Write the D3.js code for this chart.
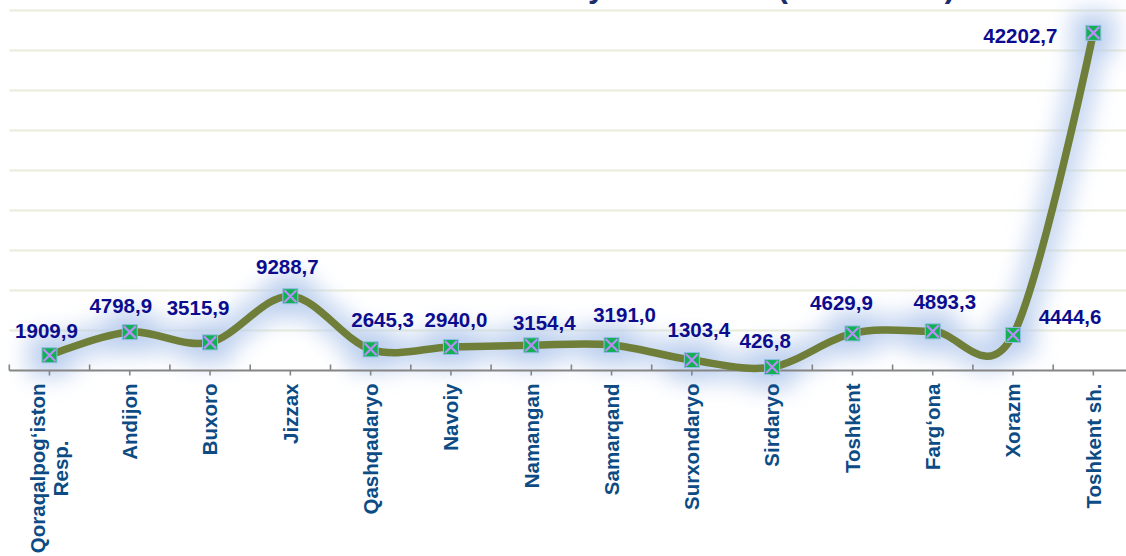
<!DOCTYPE html>
<html>
<head>
<meta charset="utf-8">
<script src="https://cdn.jsdelivr.net/npm/d3@7"></script>
<style>
  html, body { margin: 0; padding: 0; background: #ffffff; overflow: hidden; }
  svg { display: block; }
</style>
</head>
<body>
<svg id="chart" width="1126" height="556"></svg>
<script>
// Regions (multi-line names split on "\n")
const regions = [
  "Qoraqalpog‘iston\nResp.", "Andijon", "Buxoro", "Jizzax", "Qashqadaryo",
  "Navoiy", "Namangan", "Samarqand", "Surxondaryo", "Sirdaryo",
  "Toshkent", "Farg‘ona", "Xorazm", "Toshkent sh."
];
// Values per region
const values = [
  1909.9, 4798.9, 3515.9, 9288.7, 2645.3, 2940.0, 3154.4,
  3191.0, 1303.4, 426.8, 4629.9, 4893.3, 4444.6, 42202.7
];
// Value-axis gridline steps
const gridTicks = [5000, 10000, 15000, 20000, 25000, 30000, 35000, 40000, 45000];
const yMax = 45000;
const titleText = "Hududlar bo‘yicha tarkibi (mlrd. so‘m)";

// ---- layout ----
const W = 1126, H = 556;
const plotLeft = 9.3, step = 80.3, axisY = 370.5, plotTop = 10.5;
// label nudges relative to each point: [dx, baseline dy]
const labelNudge = [
  [-3, -17], [-9, -19], [-12, -27], [-3, -22], [12, -22], [5, -20], [13, -15],
  [13, -23], [7, -23], [-7, -19], [-11, -23], [12, -22], [57, -11], [-73, 10]
];

const svg = d3.select("#chart");
const fmt = v => v.toFixed(1).replace(".", ",");

const x = d3.scaleBand()
  .domain(regions)
  .range([plotLeft, plotLeft + step * regions.length])
  .paddingInner(0).paddingOuter(0);
const cx = d => x(d) + x.bandwidth() / 2;
const y = d3.scaleLinear().domain([0, yMax]).range([axisY, plotTop]);

const defs = svg.append("defs");
const halo = defs.append("filter").attr("id", "halo")
  .attr("filterUnits", "userSpaceOnUse")
  .attr("x", -60).attr("y", -60).attr("width", W + 120).attr("height", H + 120);
halo.append("feGaussianBlur").attr("stdDeviation", 11);

// title, running off the top edge
svg.append("text")
  .attr("x", 955).attr("y", -3)
  .attr("text-anchor", "end")
  .attr("font-family", "'Liberation Sans', Arial, sans-serif")
  .attr("font-weight", "bold")
  .attr("font-size", 31)
  .attr("fill", "#1d2d6b")
  .text(titleText);

// gridlines
svg.append("g").selectAll("line")
  .data(gridTicks)
  .join("line")
  .attr("x1", plotLeft).attr("x2", W)
  .attr("y1", d => y(d)).attr("y2", d => y(d))
  .attr("stroke", "#e9ecd9")
  .attr("stroke-width", 2);

const pts = regions.map((r, i) => [cx(r), y(values[i])]);
const lineGen = d3.line().curve(d3.curveCardinal.tension(0));

// soft blue glow behind the series
const glow = svg.append("g").attr("filter", "url(#halo)");
glow.append("path")
  .attr("d", lineGen(pts))
  .attr("fill", "none")
  .attr("stroke", "#b9cdee")
  .attr("stroke-opacity", 0.8)
  .attr("stroke-width", 30)
  .attr("stroke-linecap", "round");
glow.selectAll("rect")
  .data(pts)
  .join("rect")
  .attr("x", d => d[0] - 22).attr("y", d => d[1] - 22)
  .attr("width", 44).attr("height", 44)
  .attr("fill", "#b9cdee").attr("fill-opacity", 0.8);

// category axis
const axisG = svg.append("g");
axisG.append("line")
  .attr("x1", plotLeft).attr("x2", W)
  .attr("y1", axisY).attr("y2", axisY)
  .attr("stroke", "#858585").attr("stroke-width", 2);
// band boundary ticks (upward)
const bounds = regions.map(r => x(r)).concat([x.range()[1]]);
axisG.selectAll("line.b")
  .data(bounds)
  .join("line").attr("class", "b")
  .attr("x1", d => d).attr("x2", d => d)
  .attr("y1", axisY - 6).attr("y2", axisY)
  .attr("stroke", "#858585").attr("stroke-width", 1.6);
// category centre ticks (downward)
axisG.selectAll("line.c")
  .data(regions)
  .join("line").attr("class", "c")
  .attr("x1", d => cx(d)).attr("x2", d => cx(d))
  .attr("y1", axisY).attr("y2", axisY + 5)
  .attr("stroke", "#858585").attr("stroke-width", 1.6);

// rotated category labels
const catFont = 20.5, lineH = 23;
axisG.selectAll("g.lbl")
  .data(regions)
  .join("g").attr("class", "lbl")
  .each(function(d) {
    const lines = d.split("\n");
    const n = lines.length;
    const g = d3.select(this);
    const texts = lines.map((ln, k) => g.append("text")
      .attr("text-anchor", n > 1 ? "middle" : "end")
      .attr("font-family", "'Liberation Sans', Arial, sans-serif")
      .attr("font-weight", "bold")
      .attr("font-size", catFont)
      .attr("fill", "#0c4b84")
      .text(ln));
    // multi-line blocks are centred so the block's top end sits at the label edge
    const maxLen = n > 1 ? d3.max(texts, t => t.node().getComputedTextLength()) : 0;
    texts.forEach((t, k) => {
      const off = (k - (n - 1) / 2) * lineH;
      t.attr("transform", `translate(${cx(d) + off + 7.3},${383.5 + maxLen / 2}) rotate(-90)`);
    });
  });

// series line
svg.append("path")
  .attr("d", lineGen(pts))
  .attr("fill", "none")
  .attr("stroke", "#6f7e38")
  .attr("stroke-width", 7.5)
  .attr("stroke-linecap", "round")
  .attr("stroke-linejoin", "round");

// markers: green square with a lavender cross
const ms = 15;
const mk = svg.append("g").selectAll("g")
  .data(pts)
  .join("g")
  .attr("transform", d => `translate(${d[0]},${d[1]})`);
mk.append("rect")
  .attr("x", -ms / 2).attr("y", -ms / 2)
  .attr("width", ms).attr("height", ms)
  .attr("fill", "#10b152")
  .attr("stroke", "#93bde8").attr("stroke-width", 1);
mk.append("path")
  .attr("d", `M${-ms/2+1.5},${-ms/2+1.5}L${ms/2-1.5},${ms/2-1.5}M${ms/2-1.5},${-ms/2+1.5}L${-ms/2+1.5},${ms/2-1.5}`)
  .attr("stroke", "#b98ef6").attr("stroke-width", 2.2).attr("fill", "none");

// value labels
svg.append("g").selectAll("text")
  .data(values)
  .join("text")
  .attr("x", (d, i) => pts[i][0] + labelNudge[i][0])
  .attr("y", (d, i) => pts[i][1] + labelNudge[i][1])
  .attr("text-anchor", "middle")
  .attr("font-family", "'Liberation Sans', Arial, sans-serif")
  .attr("font-weight", "bold")
  .attr("font-size", 20.5)
  .attr("fill", "#0c0c8e")
  .text(d => fmt(d));
</script>
</body>
</html>
